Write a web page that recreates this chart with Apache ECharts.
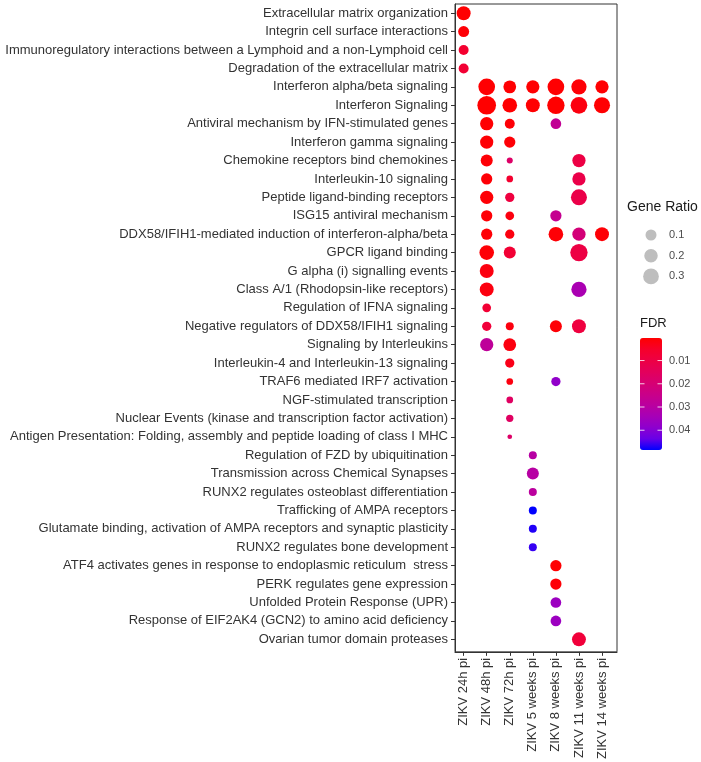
<!DOCTYPE html>
<html>
<head>
<meta charset="utf-8">
<script src="https://cdn.jsdelivr.net/npm/echarts@6/dist/echarts.min.js"></script>
<style>
  html, body { margin: 0; padding: 0; background: #fff; }
  #main { width: 701px; height: 762px; }
</style>
</head>
<body>
<div id="main"></div>
<script>
const pathways = [
  "Extracellular matrix organization",
  "Integrin cell surface interactions",
  "Immunoregulatory interactions between a Lymphoid and a non-Lymphoid cell",
  "Degradation of the extracellular matrix",
  "Interferon alpha/beta signaling",
  "Interferon Signaling",
  "Antiviral mechanism by IFN-stimulated genes",
  "Interferon gamma signaling",
  "Chemokine receptors bind chemokines",
  "Interleukin-10 signaling",
  "Peptide ligand-binding receptors",
  "ISG15 antiviral mechanism",
  "DDX58/IFIH1-mediated induction of interferon-alpha/beta",
  "GPCR ligand binding",
  "G alpha (i) signalling events",
  "Class A/1 (Rhodopsin-like receptors)",
  "Regulation of IFNA signaling",
  "Negative regulators of DDX58/IFIH1 signaling",
  "Signaling by Interleukins",
  "Interleukin-4 and Interleukin-13 signaling",
  "TRAF6 mediated IRF7 activation",
  "NGF-stimulated transcription",
  "Nuclear Events (kinase and transcription factor activation)",
  "Antigen Presentation: Folding, assembly and peptide loading of class I MHC",
  "Regulation of FZD by ubiquitination",
  "Transmission across Chemical Synapses",
  "RUNX2 regulates osteoblast differentiation",
  "Trafficking of AMPA receptors",
  "Glutamate binding, activation of AMPA receptors and synaptic plasticity",
  "RUNX2 regulates bone development",
  "ATF4 activates genes in response to endoplasmic reticulum  stress",
  "PERK regulates gene expression",
  "Unfolded Protein Response (UPR)",
  "Response of EIF2AK4 (GCN2) to amino acid deficiency",
  "Ovarian tumor domain proteases"
];
const timepoints = ["ZIKV 24h pi", "ZIKV 48h pi", "ZIKV 72h pi", "ZIKV 5 weeks pi",
  "ZIKV 8 weeks pi", "ZIKV 11 weeks pi", "ZIKV 14 weeks pi"];

// [pathway index, gene ratio, FDR] for each time point
const h24 = [[0, 0.22, 0.0005], [1, 0.10, 0.001], [2, 0.087, 0.006], [3, 0.087, 0.007]];
const h48 = [[4, 0.36, 0.0005], [5, 0.48, 0.0003], [6, 0.19, 0.0005], [7, 0.19, 0.0008],
  [8, 0.14, 0.001], [9, 0.11, 0.001], [10, 0.19, 0.001], [11, 0.11, 0.001],
  [12, 0.11, 0.001], [13, 0.25, 0.001], [14, 0.22, 0.002], [15, 0.22, 0.002],
  [16, 0.071, 0.007], [17, 0.078, 0.008], [18, 0.19, 0.028]];
const h72 = [[4, 0.17, 0.0005], [5, 0.25, 0.0005], [6, 0.087, 0.001], [7, 0.11, 0.001],
  [8, 0.037, 0.017], [9, 0.045, 0.006], [10, 0.078, 0.009], [11, 0.071, 0.002],
  [12, 0.078, 0.002], [13, 0.14, 0.007], [17, 0.062, 0.002], [18, 0.17, 0.002],
  [19, 0.078, 0.003], [20, 0.045, 0.002], [21, 0.045, 0.016], [22, 0.053, 0.016],
  [23, 0.02, 0.017]];
const w5 = [[4, 0.19, 0.0005], [5, 0.22, 0.0005], [24, 0.062, 0.030], [25, 0.14, 0.030],
  [26, 0.062, 0.029], [27, 0.062, 0.0485], [28, 0.062, 0.047], [29, 0.062, 0.046]];
const w8 = [[4, 0.36, 0.0005], [5, 0.40, 0.0003], [6, 0.096, 0.027], [11, 0.11, 0.026],
  [12, 0.25, 0.001], [17, 0.14, 0.001], [20, 0.078, 0.038], [30, 0.11, 0.0005],
  [31, 0.11, 0.001], [32, 0.096, 0.036], [33, 0.096, 0.036]];
const w11 = [[4, 0.28, 0.001], [5, 0.36, 0.002], [8, 0.19, 0.010], [9, 0.19, 0.011],
  [10, 0.32, 0.011], [12, 0.19, 0.021], [13, 0.40, 0.010], [15, 0.28, 0.033],
  [17, 0.22, 0.009], [34, 0.22, 0.008]];
const w14 = [[4, 0.19, 0.0005], [5, 0.32, 0.0005], [12, 0.22, 0.001]];

const ratioBreaks = [0.1, 0.2, 0.3];
const fdrBreaks = [0.01, 0.02, 0.03, 0.04];
const fdrLimits = [0.0003, 0.0485];

// gene ratio -> dot diameter (px)
const sizeKnots = [[0, 3.5], [0.02, 4.7], [0.1, 11], [0.2, 13.5], [0.3, 15.7], [0.5, 19]];
function dotSize(r) {
  for (let i = 1; i < sizeKnots.length; i++) {
    const [x0, y0] = sizeKnots[i - 1], [x1, y1] = sizeKnots[i];
    if (r <= x1 || i === sizeKnots.length - 1) return y0 + (r - x0) / (x1 - x0) * (y1 - y0);
  }
}

// red -> blue gradient interpolated in Lab, like ggplot
function lab2hex(L, a, b) {
  let fy = (L + 16) / 116, fx = a / 500 + fy, fz = fy - b / 200;
  const f = t => (t ** 3 > 0.008856 ? t ** 3 : (t - 16 / 116) / 7.787);
  const X = 0.95047 * f(fx), Y = f(fy), Z = 1.08883 * f(fz);
  const lin = [X * 3.2406 - Y * 1.5372 - Z * 0.4986,
    -X * 0.9689 + Y * 1.8758 + Z * 0.0415,
    X * 0.0557 - Y * 0.2040 + Z * 1.0570];
  return "#" + lin.map(c => {
    c = c > 0.0031308 ? 1.055 * Math.pow(c, 1 / 2.4) - 0.055 : 12.92 * c;
    c = Math.round(Math.min(1, Math.max(0, c)) * 255);
    return c.toString(16).padStart(2, "0");
  }).join("");
}
const labLow = [53.24, 80.09, 67.20], labHigh = [32.30, 79.19, -107.86];
const gradColors = [];
for (let i = 0; i <= 10; i++) {
  const t = i / 10;
  gradColors.push(lab2hex(...labLow.map((v, k) => v + (labHigh[k] - v) * t)));
}

const seriesData = [];
[h24, h48, h72, w5, w8, w11, w14].forEach((rows, t) => {
  rows.forEach(([p, r, f]) => seriesData.push([t, p, r, f]));
});

const textColor = "#333333";
const font = "Liberation Sans, Arial, Helvetica, sans-serif";

// legend geometry
const sizeLegend = { x: 651, y0: 235, step: 20.7, labelX: 669, titleX: 627, titleY: 208 };
const bar = { x: 640, y: 338, w: 22, h: 112, titleY: 325 };

const graphics = [
  { type: "text", left: sizeLegend.titleX, top: sizeLegend.titleY - 8,
    style: { text: "Gene Ratio", font: "14px " + font, fill: "#1a1a1a" } },
  { type: "text", left: bar.x, top: bar.titleY - 8,
    style: { text: "FDR", font: "13px " + font, fill: "#1a1a1a" } }
];
ratioBreaks.forEach((r, i) => {
  const cy = sizeLegend.y0 + i * sizeLegend.step;
  graphics.push({ type: "circle", shape: { cx: sizeLegend.x, cy: cy, r: dotSize(r) / 2 },
    style: { fill: "#bebebe" } });
  graphics.push({ type: "text", x: sizeLegend.labelX, y: cy,
    style: { text: String(r), font: "11px " + font, fill: "#4d4d4d", verticalAlign: "middle" } });
});
fdrBreaks.forEach(v => {
  const y = bar.y + (v - fdrLimits[0]) / (fdrLimits[1] - fdrLimits[0]) * bar.h;
  graphics.push({ type: "line", shape: { x1: bar.x, y1: y, x2: bar.x + 4.5, y2: y },
    style: { stroke: "rgba(255,255,255,0.8)", lineWidth: 1 }, z: 100 });
  graphics.push({ type: "line", shape: { x1: bar.x + bar.w - 4.5, y1: y, x2: bar.x + bar.w, y2: y },
    style: { stroke: "rgba(255,255,255,0.8)", lineWidth: 1 }, z: 100 });
  graphics.push({ type: "text", x: bar.x + bar.w + 7, y: y,
    style: { text: String(v), font: "11px " + font, fill: "#4d4d4d", verticalAlign: "middle" } });
});

const idx = n => Array.from({ length: n }, (_, i) => i);

const option = {
  animation: false,
  backgroundColor: "#fff",
  grid: {
    left: 455, right: 84, top: 4, bottom: 109,
    show: true, borderColor: textColor, borderWidth: 1
  },
  xAxis: {
    type: "value", min: -0.375, max: 6.65,
    splitLine: { show: false },
    axisLine: { show: true, onZero: false, lineStyle: { color: textColor } },
    axisTick: { show: true, customValues: idx(timepoints.length), length: 4, lineStyle: { color: textColor } },
    axisLabel: {
      customValues: idx(timepoints.length), rotate: 90, margin: 6,
      formatter: v => timepoints[v], color: textColor, fontSize: 13, fontFamily: font
    }
  },
  yAxis: {
    type: "value", inverse: true, min: -0.5, max: 34.68,
    splitLine: { show: false },
    axisLine: { show: true, onZero: false, lineStyle: { color: textColor } },
    axisTick: { show: true, customValues: idx(pathways.length), length: 4, lineStyle: { color: textColor } },
    axisLabel: {
      customValues: idx(pathways.length), margin: 7,
      formatter: v => pathways[v], color: textColor, fontSize: 13, fontFamily: font
    }
  },
  visualMap: {
    type: "continuous", dimension: 3, seriesIndex: 0,
    min: fdrLimits[0], max: fdrLimits[1],
    inRange: { color: gradColors },
    inverse: true, calculable: false, orient: "vertical",
    left: bar.x, top: bar.y, itemWidth: bar.w, itemHeight: bar.h,
    padding: 0, text: null, showLabel: false
  },
  graphic: graphics,
  series: [{
    type: "scatter",
    data: seriesData,
    symbolSize: v => dotSize(v[2]),
    itemStyle: { opacity: 1 }
  }]
};

const chart = echarts.init(document.getElementById("main"));
chart.setOption(option);
</script>
</body>
</html>
